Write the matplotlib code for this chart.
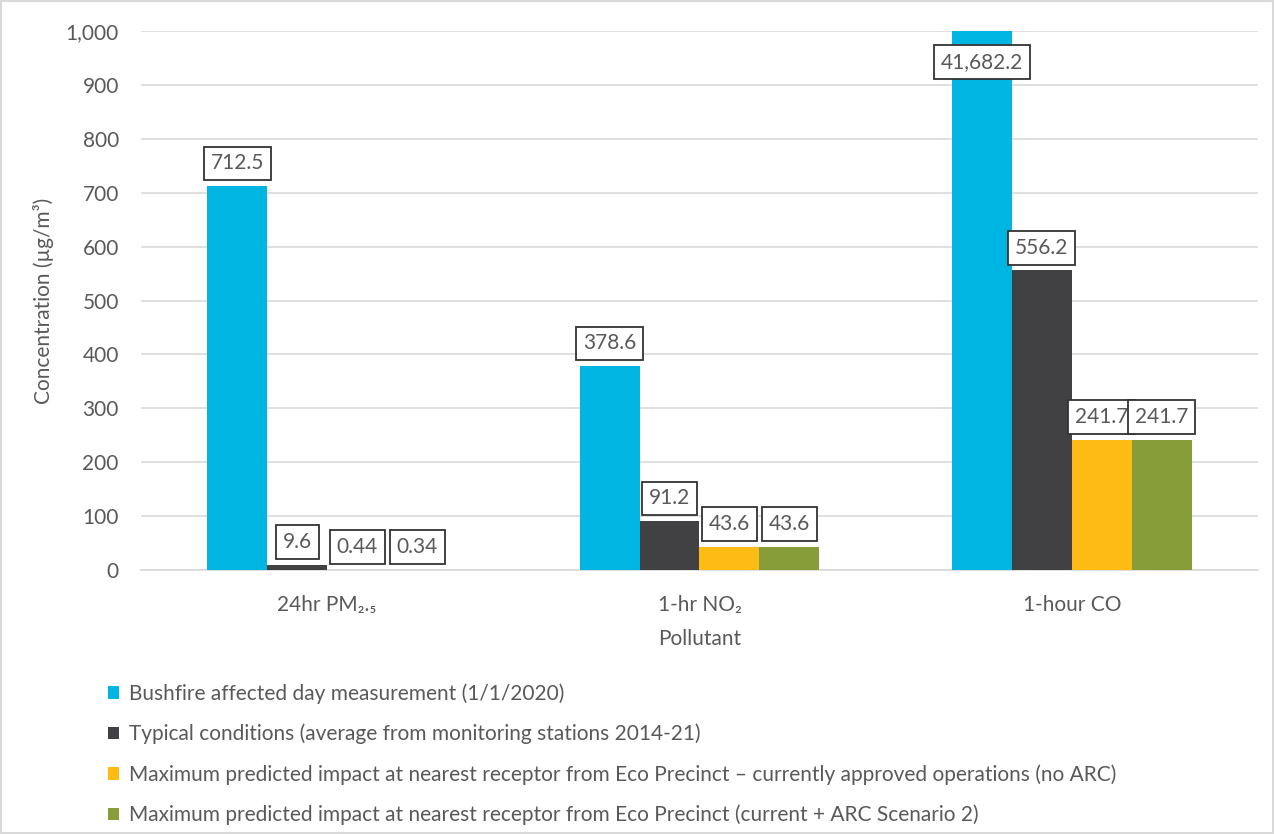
import numpy as np
import matplotlib
matplotlib.use('Agg')
import matplotlib.pyplot as plt
from matplotlib.patches import Patch, Rectangle

# data
categories = ['24hr PM₂.₅', '1-hr NO₂', '1-hour CO']
series_names = [
    'Bushfire affected day measurement (1/1/2020)',
    'Typical conditions (average from monitoring stations 2014-21)',
    'Maximum predicted impact at nearest receptor from Eco Precinct \u2013 currently approved operations (no ARC)',
    'Maximum predicted impact at nearest receptor from Eco Precinct (current + ARC Scenario 2)',
]
bushfire = [712.5, 378.6, 41682.2]
typical = [9.6, 91.2, 556.2]
eco_current = [0.44, 43.6, 241.7]
eco_arc = [0.34, 43.6, 241.7]
series_values = [bushfire, typical, eco_current, eco_arc]
colors = ['#00B5E2', '#414042', '#FDBB13', '#879D3A']
y_max = 1000

plt.rcParams['font.family'] = ['Lato', 'DejaVu Sans']
text_color = '#595959'
grid_color = '#D9D9D9'
fs = 15

fig = plt.figure(figsize=(12.74, 8.34), dpi=100)
ax = fig.add_axes([0.1107, 0.3165, 0.8767, 0.6463])

x = np.arange(len(categories))
bar_w = 0.161
offsets = (np.arange(4) - 1.5) * bar_w


def fmt(v):
    if v < 1:
        return f'{v:.2f}'
    return f'{v:,.1f}'


for i, vals in enumerate(series_values):
    ax.bar(x + offsets[i], vals, width=bar_w, color=colors[i], zorder=3)
    for xi, v in zip(x + offsets[i], vals):
        box = dict(boxstyle='square,pad=0.33', facecolor='white', edgecolor='#333333', linewidth=1.3)
        if v > y_max:
            # bar runs off the top of the axis, put the label just inside
            ax.annotate(fmt(v), (xi, y_max), xytext=(0, -15), textcoords='offset points',
                        ha='center', va='top', fontsize=fs, color=text_color, bbox=box, zorder=5)
        else:
            ax.annotate(fmt(v), (xi, v), xytext=(0, 9), textcoords='offset points',
                        ha='center', va='bottom', fontsize=fs, color=text_color, bbox=box, zorder=5)

ax.set_ylim(0, y_max)
ax.set_xlim(-0.5, len(categories) - 0.5)
ax.set_yticks(np.arange(0, 1001, 100))
ax.set_yticklabels([f'{t:,}' for t in range(0, 1001, 100)])
ax.set_xticks(x)
ax.set_xticklabels(categories)
ax.yaxis.grid(True, color=grid_color, linewidth=1.2, zorder=0)
ax.set_axisbelow(True)
for s in ['top', 'right', 'left']:
    ax.spines[s].set_visible(False)
ax.spines['bottom'].set_color(grid_color)
ax.spines['bottom'].set_linewidth(1.2)
ax.tick_params(axis='both', length=0, labelsize=fs, colors=text_color)
ax.tick_params(axis='y', pad=16)
ax.tick_params(axis='x', pad=18)

ax.set_ylabel('Concentration (µg/m³)', fontsize=fs, color=text_color, labelpad=8)
ax.set_xlabel('Pollutant', fontsize=fs, color=text_color, labelpad=10)

handles = [Patch(facecolor=c, edgecolor='none') for c in colors]
fig.legend(handles, series_names, loc='upper left', bbox_to_anchor=(0.07, 0.203),
           frameon=False, fontsize=fs, labelcolor=text_color,
           handlelength=0.55, handleheight=0.55, handletextpad=0.45, labelspacing=0.95)

fig.patches.append(Rectangle((0.001, 0.001), 0.998, 0.998, transform=fig.transFigure,
                             fill=False, edgecolor=grid_color, linewidth=1.5))

plt.savefig('out.png', dpi=100)
